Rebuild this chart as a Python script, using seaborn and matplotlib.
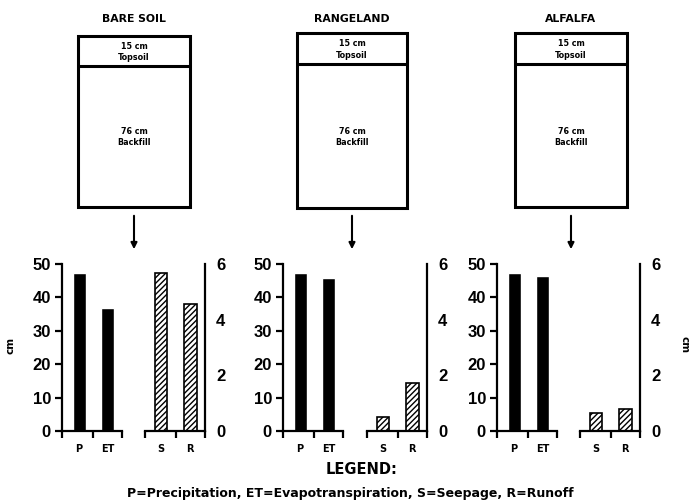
import matplotlib
matplotlib.use("Agg")
import matplotlib.pyplot as plt
import matplotlib.patches as mpatches
import pandas as pd
import seaborn as sns

# values (cm)
sites = ["BARE SOIL", "RANGELAND", "ALFALFA"]
precip = [47.3, 47.4, 47.4]
evapo = [36.9, 45.7, 46.4]
seepage = [5.66, 0.5, 0.66]
runoff = [4.58, 1.73, 0.78]
water_terms = ["P", "ET"]
loss_terms = ["S", "R"]
left_ticks = [0, 10, 20, 30, 40, 50]
right_ticks = [0, 2, 4, 6]
topsoil_label = "15 cm\nTopsoil"
backfill_label = "76 cm\nBackfill"
legend_text = "P=Precipitation, ET=Evapotranspiration, S=Seepage, R=Runoff"

sns.set_style("ticks")
plt.rcParams["font.family"] = ["Liberation Sans", "DejaVu Sans"]
plt.rcParams["font.weight"] = "bold"
plt.rcParams["hatch.linewidth"] = 1.0
for key in ["text.color", "axes.labelcolor", "xtick.color", "ytick.color",
            "axes.edgecolor"]:
    plt.rcParams[key] = "black"
wide = "DejaVu Sans"

W, H = 693, 504
fig = plt.figure(figsize=(6.93, 5.04), dpi=100)


def px_axes(x0, y0, x1, y1):
    # axes placed by pixel box (top-left origin)
    return fig.add_axes([x0 / W, 1 - y1 / H, (x1 - x0) / W, (y1 - y0) / H])


bg = fig.add_axes([0, 0, 1, 1])
bg.set_xlim(0, W)
bg.set_ylim(H, 0)
bg.axis("off")

# soil column diagrams
boxes = [(78, 36, 190, 207, 66), (297, 33, 407, 208, 64), (515, 33, 627, 207, 64)]
for name, (x0, y0, x1, y1, ydiv) in zip(sites, boxes):
    bg.add_patch(mpatches.Rectangle((x0, y0), x1 - x0, y1 - y0, fill=False,
                                    lw=2.2, ec="black"))
    bg.plot([x0, x1], [ydiv, ydiv], color="black", lw=2.2)
    xc = (x0 + x1) / 2
    bg.text(xc, 19, name, ha="center", va="center", fontsize=7.8,
            family=wide, fontweight="bold")
    bg.text(xc, (y0 + ydiv) / 2 + 1, topsoil_label, ha="center", va="center",
            fontsize=5.8, linespacing=1.3, family=wide)
    bg.text(xc, 137, backfill_label, ha="center", va="center",
            fontsize=5.8, linespacing=1.3, family=wide)
    bg.annotate("", xy=(xc, 252), xytext=(xc, 213),
                arrowprops=dict(arrowstyle="-|>", color="black", lw=1.5,
                                mutation_scale=9))

left_x = [62, 283, 497]
right_x = [205, 427, 640]
top_px, bot_px = 264, 431

for i in range(3):
    # P / ET on the 0-50 scale
    axl = px_axes(left_x[i], top_px, left_x[i] + 60, bot_px)
    axl.patch.set_alpha(0)
    dfl = pd.DataFrame({"term": water_terms, "cm": [precip[i], evapo[i]]})
    sns.barplot(data=dfl, x="term", y="cm", color="black", saturation=1,
                width=0.45, ax=axl)
    axl.set_xlim(-0.6, 1.5)
    axl.set_ylim(0, 50)
    axl.set_yticks(left_ticks)
    axl.set_xlabel("")
    axl.set_ylabel("")
    sns.despine(ax=axl)

    # S / R on the 0-6 scale
    axr = px_axes(right_x[i] - 60, top_px, right_x[i], bot_px)
    axr.patch.set_alpha(0)
    dfr = pd.DataFrame({"term": loss_terms, "cm": [seepage[i], runoff[i]]})
    sns.barplot(data=dfr, x="term", y="cm", color="white", saturation=1,
                width=0.42, edgecolor="black", linewidth=1.2, ax=axr)
    for p in axr.patches:
        p.set_hatch("//////")
    axr.set_xlim(-0.55, 1.5)
    axr.set_ylim(0, 6)
    axr.set_yticks(right_ticks)
    axr.yaxis.tick_right()
    axr.set_xlabel("")
    axr.set_ylabel("")
    sns.despine(ax=axr, left=True, right=False)

    for ax in (axl, axr):
        for s in ax.spines.values():
            s.set_linewidth(1.6)
            s.set_color("black")
        ax.tick_params(axis="y", labelsize=12, width=1.6, length=5, pad=3,
                       colors="black")
        ax.tick_params(axis="x", which="major", labelsize=7, length=0, pad=9,
                       colors="black")
        ax.set_xticks([-0.6 if ax is axl else -0.55, 0.5, 1.5], minor=True)
        ax.tick_params(axis="x", which="minor", width=1.6, length=5,
                       colors="black")
        for t in ax.get_xticklabels():
            t.set_family(wide)

bg.text(10, 345, "cm", rotation=90, ha="center", va="center", fontsize=7.5,
        family=wide)
bg.text(685, 345, "cm", rotation=270, ha="center", va="center", fontsize=7.5,
        family=wide)
bg.text(362, 470, "LEGEND:", ha="center", va="center", fontsize=10.5,
        family=wide)
bg.text(350, 494, legend_text, ha="center", va="center", fontsize=9.0,
        family=wide)

fig.savefig("out.png", dpi=100)
